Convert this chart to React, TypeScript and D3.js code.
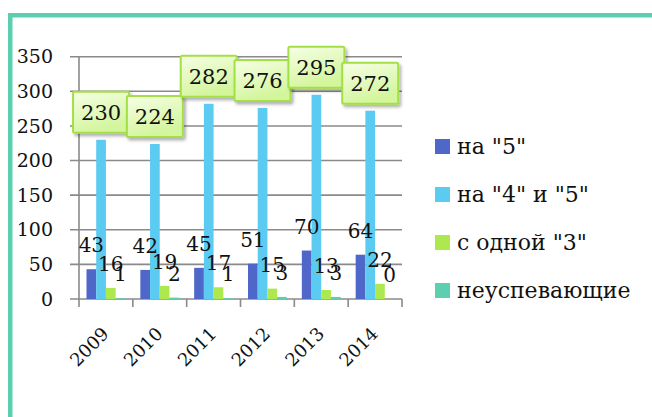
import React from "react";
import * as d3 from "d3";

const years = ["2009", "2010", "2011", "2012", "2013", "2014"];
const seriesNames = ['на "5"', 'на "4" и "5"', 'с одной "3"', "неуспевающие"];
const s5 = [43, 42, 45, 51, 70, 64];
const s45 = [230, 224, 282, 276, 295, 272];
const s3 = [16, 19, 17, 15, 13, 22];
const sFail = [1, 2, 1, 3, 3, 0];
const yTicks = [0, 50, 100, 150, 200, 250, 300, 350];
const colors = ["#4f67c8", "#5ccbf1", "#aee84f", "#5ccfb0"];

const W = 652, H = 417;
const FONT = "'DejaVu Serif', serif";

export default function App() {
  const series = [s5, s45, s3, sFail];
  const x0 = d3.scaleBand().domain(years).range([79, 402]).paddingInner(0).paddingOuter(0);
  const bw = x0.bandwidth();
  const x1 = d3.scaleBand().domain(seriesNames).range([7.5, bw - 7.5]).padding(0);
  const y = d3.scaleLinear().domain([0, 350]).range([299, 56.7]);
  const [plotLeft, plotRight] = x0.range();

  return (
    <svg width={W} height={H} style={{ position: "absolute", left: 0, top: 0 }} fontFamily={FONT}>
      <defs>
        <linearGradient id="boxg" x1="0" y1="0" x2="0.4" y2="1">
          <stop offset="0" stopColor="#f6ffe6" />
          <stop offset="1" stopColor="#d3f59c" />
        </linearGradient>
        <filter id="shadow" x="-20%" y="-20%" width="150%" height="150%">
          <feDropShadow dx="2" dy="2.5" stdDeviation="1.5" floodColor="#000" floodOpacity="0.3" />
        </filter>
      </defs>
      <rect x={0} y={0} width={W} height={H} fill="#fff" />
      {/* frame */}
      <rect x={8} y={13} width={4.5} height={H - 13} fill="#5ccfb0" />
      <rect x={8} y={13} width={W - 8} height={4.5} fill="#5ccfb0" />

      {/* gridlines */}
      {yTicks.map((t) => (
        <g key={t}>
          <line x1={70} x2={plotRight} y1={y(t)} y2={y(t)} stroke="#8a8a8a" strokeWidth={1.6} />
          <text x={53} y={y(t)} dy="0.35em" textAnchor="end" fontSize={19} fill="#111">
            {t}
          </text>
        </g>
      ))}
      <line x1={plotLeft} x2={plotLeft} y1={y(350)} y2={y(0)} stroke="#8a8a8a" strokeWidth={1.6} />
      {d3.range(years.length + 1).map((i) => {
        const xx = plotLeft + i * bw;
        return <line key={i} x1={xx} x2={xx} y1={y(0)} y2={y(0) + 8} stroke="#8a8a8a" strokeWidth={1.6} />;
      })}

      {/* bars */}
      {series.map((vals, si) =>
        vals.map((v, i) => (
          <rect
            key={si + "-" + i}
            x={(x0(years[i]) as number) + (x1(seriesNames[si]) as number)}
            y={y(v)}
            width={x1.bandwidth()}
            height={y(0) - y(v)}
            fill={colors[si]}
          />
        ))
      )}

      {/* labels for non-boxed series */}
      {[0, 2, 3].map((si) =>
        series[si].map((v, i) => (
          <text
            key={"l" + si + "-" + i}
            x={(x0(years[i]) as number) + (x1(seriesNames[si]) as number) + x1.bandwidth() / 2}
            y={y(v) - 17}
            textAnchor="middle"
            fontSize={20}
            fill="#111"
          >
            {v}
          </text>
        ))
      )}

      {/* boxed labels for series 2 */}
      {s45.map((v, i) => {
        const cx = (x0(years[i]) as number) + (x1(seriesNames[1]) as number) + x1.bandwidth() / 2;
        const bottom = y(v) - 7;
        const bh = 41, bwid = 56;
        return (
          <g key={"b" + i}>
            <rect
              x={cx - bwid / 2}
              y={bottom - bh}
              width={bwid}
              height={bh}
              fill="url(#boxg)"
              stroke="#a3e044"
              strokeWidth={2}
              rx={1.5}
              filter="url(#shadow)"
            />
            <text x={cx} y={bottom - bh / 2} dy="0.36em" textAnchor="middle" fontSize={21} fill="#111">
              {v}
            </text>
          </g>
        );
      })}

      {/* x labels */}
      {years.map((yr) => {
        const cx = (x0(yr) as number) + bw / 2 + 4;
        const cy = y(0) + 36;
        return (
          <text
            key={yr}
            transform={`translate(${cx},${cy}) rotate(-45)`}
            textAnchor="end"
            fontSize={18}
            fill="#111"
          >
            {yr}
          </text>
        );
      })}

      {/* legend */}
      {seriesNames.map((n, i) => (
        <g key={n} transform={`translate(435,${139 + i * 48})`}>
          <rect x={0} y={0} width={15} height={15} fill={colors[i]} />
          <text x={22} y={15} fontSize={22} fill="#111">
            {n}
          </text>
        </g>
      ))}
    </svg>
  );
}
